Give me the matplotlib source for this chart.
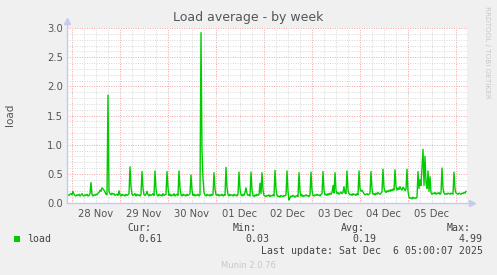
import matplotlib
matplotlib.use("Agg")
import matplotlib.pyplot as plt
import matplotlib.dates as mdates
import pandas as pd

# 30-minute load averages, Munin weekly view
start = "2025-11-27 21:30"
load = [
    0.12, 0.14, 0.13, 0.15, 0.16, 0.14, 0.20, 0.15, 0.13, 0.12,
    0.14, 0.13, 0.15, 0.12, 0.14, 0.16, 0.13, 0.12, 0.14, 0.13,
    0.15, 0.12, 0.13, 0.16, 0.35, 0.15, 0.12, 0.14, 0.13, 0.15,
    0.14, 0.17, 0.18, 0.22, 0.20, 0.26, 0.24, 0.22, 0.19, 0.15,
    0.14, 1.85, 0.20, 0.16, 0.14, 0.17, 0.15, 0.16, 0.13, 0.14,
    0.15, 0.13, 0.21, 0.14, 0.12, 0.15, 0.13, 0.14, 0.12, 0.15,
    0.13, 0.14, 0.16, 0.62, 0.28, 0.15, 0.13, 0.14, 0.16, 0.12,
    0.15, 0.13, 0.14, 0.12, 0.15, 0.54, 0.25, 0.14, 0.13, 0.15,
    0.20, 0.14, 0.12, 0.15, 0.13, 0.14, 0.16, 0.13, 0.55, 0.24,
    0.14, 0.12, 0.15, 0.13, 0.14, 0.12, 0.16, 0.13, 0.14, 0.15,
    0.54, 0.26, 0.13, 0.15, 0.12, 0.14, 0.13, 0.16, 0.12, 0.14,
    0.15, 0.13, 0.55, 0.25, 0.14, 0.12, 0.15, 0.13, 0.14, 0.12,
    0.15, 0.13, 0.14, 0.16, 0.48, 0.22, 0.13, 0.15, 0.12, 0.14,
    0.13, 0.15, 0.12, 0.14, 2.92, 0.90, 0.42, 0.18, 0.14, 0.12,
    0.15, 0.13, 0.14, 0.12, 0.15, 0.13, 0.14, 0.52, 0.24, 0.14,
    0.13, 0.15, 0.12, 0.14, 0.13, 0.15, 0.12, 0.14, 0.13, 0.61,
    0.26, 0.14, 0.12, 0.15, 0.13, 0.14, 0.12, 0.15, 0.13, 0.14,
    0.12, 0.15, 0.53, 0.24, 0.14, 0.12, 0.15, 0.13, 0.18, 0.26,
    0.16, 0.13, 0.14, 0.12, 0.53, 0.22, 0.13, 0.11, 0.14, 0.12,
    0.15, 0.13, 0.14, 0.34, 0.16, 0.52, 0.22, 0.13, 0.12, 0.11,
    0.13, 0.12, 0.14, 0.11, 0.13, 0.12, 0.14, 0.12, 0.56, 0.24,
    0.13, 0.11, 0.12, 0.10, 0.13, 0.12, 0.11, 0.13, 0.12, 0.14,
    0.55, 0.20, 0.05, 0.09, 0.12, 0.11, 0.13, 0.12, 0.10, 0.12,
    0.13, 0.11, 0.52, 0.20, 0.12, 0.14, 0.11, 0.13, 0.12, 0.14,
    0.12, 0.13, 0.11, 0.14, 0.53, 0.22, 0.13, 0.12, 0.14, 0.13,
    0.15, 0.13, 0.14, 0.12, 0.15, 0.16, 0.54, 0.22, 0.14, 0.15,
    0.13, 0.16, 0.14, 0.17, 0.15, 0.18, 0.30, 0.17, 0.52, 0.22,
    0.16, 0.18, 0.15, 0.17, 0.19, 0.16, 0.18, 0.28, 0.17, 0.16,
    0.55, 0.22, 0.16, 0.14, 0.15, 0.13, 0.16, 0.14, 0.15, 0.13,
    0.16, 0.14, 0.55, 0.24, 0.20, 0.22, 0.19, 0.16, 0.14, 0.15,
    0.16, 0.14, 0.15, 0.17, 0.54, 0.24, 0.15, 0.16, 0.14, 0.17,
    0.15, 0.18, 0.16, 0.15, 0.17, 0.19, 0.58, 0.26, 0.20, 0.18,
    0.21, 0.19, 0.22, 0.20, 0.23, 0.21, 0.24, 0.22, 0.57, 0.28,
    0.22, 0.26, 0.23, 0.28, 0.24, 0.22, 0.27, 0.25, 0.21, 0.24,
    0.58, 0.20, 0.10, 0.08, 0.09, 0.07, 0.10, 0.08, 0.09, 0.08,
    0.10, 0.54, 0.25, 0.40, 0.30, 0.60, 0.92, 0.30, 0.80, 0.35,
    0.25, 0.55, 0.20, 0.45, 0.18, 0.15, 0.17, 0.16, 0.18, 0.15,
    0.17, 0.16, 0.18, 0.15, 0.17, 0.60, 0.25, 0.17, 0.15, 0.16,
    0.15, 0.17, 0.16, 0.15, 0.17, 0.16, 0.15, 0.53, 0.24, 0.17,
    0.16, 0.15, 0.17, 0.16, 0.15, 0.17, 0.16, 0.18, 0.17, 0.20,
]
day_labels = ["28 Nov", "29 Nov", "30 Nov", "01 Dec", "02 Dec", "03 Dec", "04 Dec", "05 Dec"]
stat_names = ["Cur:", "Min:", "Avg:", "Max:"]
stat_values = ["0.61", "0.03", "0.19", "4.99"]

times = pd.date_range(start, periods=len(load), freq="30min")
t_end = times[0] + pd.Timedelta(hours=200)

W, H = 497, 275
fig = plt.figure(figsize=(W / 100, H / 100), dpi=100, facecolor="#F0F0F0")
ax = fig.add_axes([67 / W, (H - 203) / H, 400 / W, 175 / H])
ax.set_facecolor("white")

ax.set_xlim(times[0], t_end)
ax.set_ylim(0, 3.0)

# grid: minor gray every 6h / 0.1, major red at midnight / 0.5
grid_kw = dict(linewidth=0.7, dashes=(1, 1.5), zorder=1)
for t in pd.date_range("2025-11-28", t_end, freq="6h"):
    major = t.hour == 0
    ax.axvline(t, color="#F2A0A0" if major else "#D8D8D8", **grid_kw)
for i in range(1, 31):
    major = i % 5 == 0
    ax.axhline(i / 10, color="#F2A0A0" if major else "#D8D8D8", **grid_kw)

ax.plot(times, load, color="#00CC00", linewidth=1.0, zorder=3)

# axis lines with arrow heads
axis_col = "#C8C8F0"
ax.plot([0, 0], [0, 1.04], color=axis_col, lw=1, transform=ax.transAxes, clip_on=False, zorder=4)
ax.plot([0, 1.012], [0, 0], color=axis_col, lw=1, transform=ax.transAxes, clip_on=False, zorder=4)
ax.plot([0], [1.04], marker="^", ms=4, color=axis_col, transform=ax.transAxes, clip_on=False)
ax.plot([1.012], [0], marker=">", ms=4, color=axis_col, transform=ax.transAxes, clip_on=False)
for s in ax.spines.values():
    s.set_visible(False)

noons = pd.date_range("2025-11-28 12:00", periods=len(day_labels), freq="D")
ax.set_xticks(noons)
ax.set_xticklabels(day_labels)
ax.set_yticks([0, 0.5, 1.0, 1.5, 2.0, 2.5, 3.0])
ax.set_yticklabels(["0.0", "0.5", "1.0", "1.5", "2.0", "2.5", "3.0"])
ax.tick_params(length=0, labelsize=7.2, colors="#555555", pad=4)
ax.tick_params(axis="y", pad=3)

fig.text(248 / W, 1 - 18 / H, "Load average - by week", ha="center", va="center",
         fontsize=9, color="#555555")
fig.text(10 / W, 1 - 115 / H, "load", rotation=90, ha="center", va="center",
         fontsize=7.5, color="#555555")
fig.text(487 / W, 1 - 6 / H, "RRDTOOL / TOBI OETIKER", rotation=270, ha="center", va="top",
         fontsize=5.2, color="#C8C8C8")

# legend block
mono = dict(family="DejaVu Sans Mono", fontsize=7.1, color="#444444", va="center")
fig.patches.append(plt.Rectangle((14 / W, 1 - 242 / H), 6 / W, 6 / H, transform=fig.transFigure,
                                 facecolor="#00CC00", edgecolor="none"))
fig.text(27 / W, 1 - 239 / H, "load", ha="left", **mono)
name_x = [127, 233, 341, 447]
val_x = [162, 269, 376, 483]
for nm, nx, v, vx in zip(stat_names, name_x, stat_values, val_x):
    fig.text(nx / W, 1 - 228 / H, nm, ha="left", **mono)
    fig.text(vx / W, 1 - 239 / H, v, ha="right", **mono)
fig.text(483 / W, 1 - 251 / H, "Last update: Sat Dec  6 05:00:07 2025", ha="right", **mono)
fig.text(248 / W, 1 - 265 / H, "Munin 2.0.76", ha="center", va="center", fontsize=6,
         color="#C8C8C8")

fig.savefig("out.png", dpi=100, facecolor=fig.get_facecolor())
